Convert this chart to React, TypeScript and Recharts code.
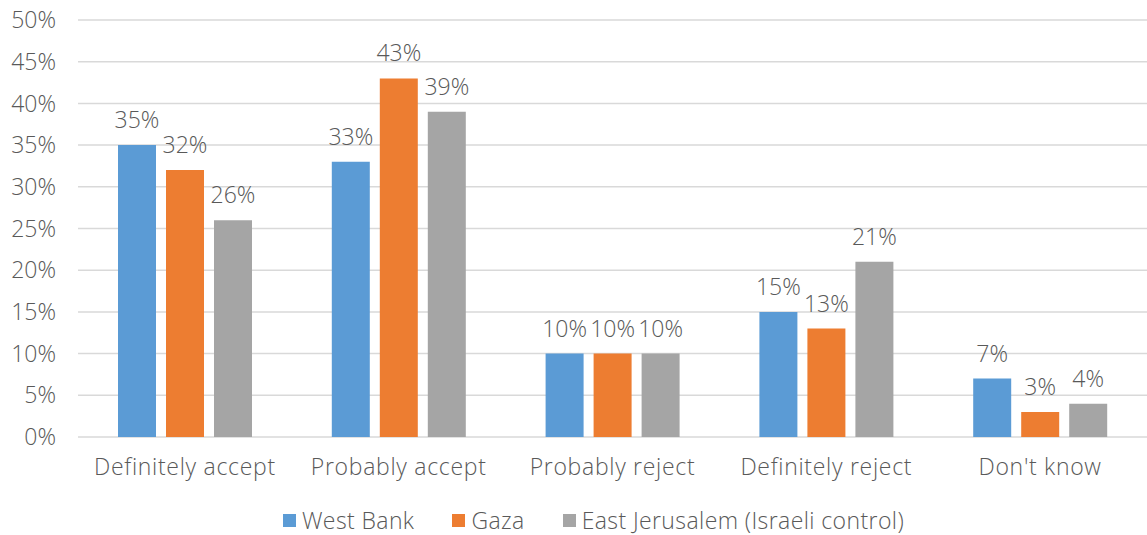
import { BarChart, Bar, XAxis, YAxis, CartesianGrid, Legend, LabelList } from "recharts";

// ─── Data ────────────────────────────────────────────────────────────────────

const categories = [
  "Definitely accept",
  "Probably accept",
  "Probably reject",
  "Definitely reject",
  "Don't know",
];
const westBank = [35, 33, 10, 15, 7];
const gaza = [32, 43, 10, 13, 3];
const eastJerusalem = [26, 39, 10, 21, 4];
const yTicks = [0, 5, 10, 15, 20, 25, 30, 35, 40, 45, 50];

const SERIES = [
  { key: "West Bank", color: "#5B9BD5" },
  { key: "Gaza", color: "#ED7D31" },
  { key: "East Jerusalem (Israeli control)", color: "#A5A5A5" },
];

const data = categories.map((name, i) => ({
  name,
  "West Bank": westBank[i],
  Gaza: gaza[i],
  "East Jerusalem (Israeli control)": eastJerusalem[i],
}));

const FONT = "'Open Sans', 'Noto Sans', sans-serif";
const TEXT = "#595959";
const FS = 23;
const TEXT_STYLE = { fill: TEXT, fontSize: FS, fontFamily: FONT, fontWeight: 300 };
const pct = (v: number) => `${v}%`;

function LegendContent() {
  return (
    <div
      style={{
        height: 30,
        display: "flex",
        justifyContent: "center",
        alignItems: "center",
        paddingLeft: 40,
        boxSizing: "border-box",
        fontFamily: FONT,
        fontSize: 23,
        fontWeight: 300,
        letterSpacing: 0.4,
        color: TEXT,
      }}
    >
      {SERIES.map((s, i) => (
        <div
          key={s.key}
          style={{ display: "flex", alignItems: "center", marginLeft: i === 0 ? 0 : 38 }}
        >
          <span
            style={{ width: 13, height: 13, background: s.color, marginRight: 6, display: "inline-block" }}
          />
          {s.key}
        </div>
      ))}
    </div>
  );
}

export default function App() {
  return (
    <div style={{ position: "absolute", left: 0, top: 0, width: 1147, height: 535, background: "#fff" }}>
      <BarChart
        width={1147}
        height={535}
        data={data}
        margin={{ top: 20, right: 0, left: 0, bottom: 38 }}
        barSize={38}
        barGap={10}
      >
        <CartesianGrid vertical={false} stroke="#D9D9D9" strokeWidth={1.5} />
        <XAxis
          dataKey="name"
          axisLine={false}
          tickLine={false}
          tickSize={0}
          tickMargin={22}
          tick={{ ...TEXT_STYLE, letterSpacing: 0.7 }}
          interval={0}
        />
        <YAxis
          width={78}
          domain={[0, 50]}
          ticks={yTicks}
          tickFormatter={pct}
          axisLine={false}
          tickLine={false}
          tickSize={0}
          tickMargin={22}
          tick={TEXT_STYLE}
        />
        <Legend
          content={LegendContent}
          wrapperStyle={{ top: 505, bottom: "auto", left: 0, width: 1147 }}
        />
        {SERIES.map((s) => (
          <Bar key={s.key} dataKey={s.key} fill={s.color} isAnimationActive={false}>
            <LabelList
              dataKey={s.key}
              position="top"
              offset={17}
              formatter={(v: unknown) => pct(Number(v))}
              style={TEXT_STYLE}
            />
          </Bar>
        ))}
      </BarChart>
    </div>
  );
}
